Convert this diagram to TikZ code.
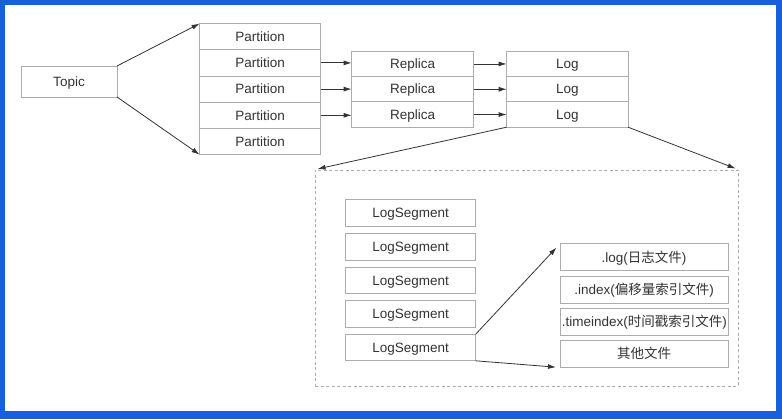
\documentclass[tikz,border=0pt]{standalone}
\usepackage{fontspec}
\setmainfont{Liberation Sans}
\newfontfamily\cjk{Noto Sans CJK SC}
\usepackage{tikz}
\usetikzlibrary{matrix, positioning, arrows.meta}
\definecolor{framecol}{RGB}{22,96,222}
\definecolor{linecol}{RGB}{172,172,172}
\definecolor{inkcol}{RGB}{51,51,51}

\tikzset{
  box/.style={draw=linecol, line width=0.8pt, text=inkcol, inner sep=2pt, outer sep=0pt,
              text height=10.5pt, text depth=1pt},
  filebox/.style={box, text width=164.4pt, align=center, minimum height=27pt},
  arr/.style={-{Latex[length=8pt,width=5pt]}, draw=inkcol, line width=0.8pt},
  dashbox/.style={draw=linecol, dash pattern=on 3pt off 2.5pt, line width=0.8pt},
}

\begin{document}
\begin{tikzpicture}[x=1pt, y=-1pt, font=\fontsize{13.5}{15}\selectfont]
\fill[framecol] (0,0) rectangle (782,419);
\fill[white] (5,5) rectangle (776,411.5);
\useasboundingbox (0,0) rectangle (782,419);

\node[box, minimum width=96pt, minimum height=31pt] (topic) at (69,81.5) {Topic};

\matrix [matrix of nodes, anchor=north west, inner sep=0pt, row sep=-0.8pt,
         nodes={box, minimum width=121pt, minimum height=26.2pt}] at (199,23)
%
{
|(p1)| Partition \\
|(p2)| Partition \\
|(p3)| Partition \\
|(p4)| Partition \\
|(p5)| Partition \\
};

\matrix [matrix of nodes, anchor=north west, inner sep=0pt, row sep=-0.8pt,
         nodes={box, minimum width=122pt, minimum height=25.3pt}] at (351,50.7)
{
|(r1)| Replica \\
|(r2)| Replica \\
|(r3)| Replica \\
};

\matrix [matrix of nodes, anchor=north west, inner sep=0pt, row sep=-0.8pt,
         nodes={box, minimum width=121.5pt, minimum height=25.3pt}] at (506,50.7)
{
|(l1)| Log \\
|(l2)| Log \\
|(l3)| Log \\
};

\node[dashbox, minimum width=423pt, minimum height=216pt] (detail) at (526.5,278) {};

\matrix [matrix of nodes, anchor=north west, inner sep=0pt, row sep=6.3pt,
         nodes={box, minimum width=130pt, minimum height=26.5pt}] at (345,199.3)
{
|(s1)| LogSegment \\
|(s2)| LogSegment \\
|(s3)| LogSegment \\
|(s4)| LogSegment \\
|(s5)| LogSegment \\
};

\matrix [matrix of nodes, anchor=north west, inner sep=0pt, row sep=4.4pt,
         nodes={filebox}] at (559.3,243.3)
{
|(f1)| .log({\cjk 日志文件}) \\
|(f2)| .index({\cjk 偏移量索引文件}) \\
|(f3)| .timeindex({\cjk 时间戳索引文件}) \\
|(f4)| {\cjk 其他文件} \\
};

\draw[arr] (topic.north east) -- (p1.north west);
\draw[arr] (topic.south east) -- (p5.south west);
\foreach \i/\j in {2/1,3/2,4/3}
  \draw[arr] (p\i.east) -- (r\j.west |- p\i.east);
\foreach \i in {1,2,3}
  \draw[arr] (r\i) -- (l\i);
%
\draw[arr, shorten >=3pt] (l3.south west) -- (detail.north west);
\draw[arr, shorten >=3pt] (l3.south east) -- (detail.north east);
\draw[arr, shorten >=5pt] (s5.north east) -- (f1.north west);
\draw[arr, shorten >=4pt] (s5.south east) -- (f4.south west);
\end{tikzpicture}
\end{document}
